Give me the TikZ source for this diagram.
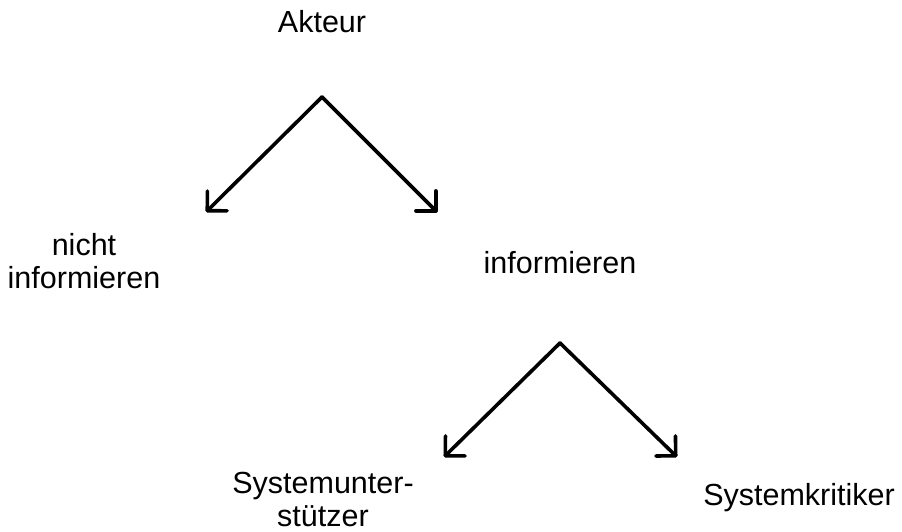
\documentclass[tikz,border=0pt]{standalone}
\usepackage{fontspec}
\setmainfont{Liberation Sans}
\usetikzlibrary{arrows.meta}
\begin{document}
\begin{tikzpicture}[x=1pt,y=-1pt,
  lbl/.style={font=\fontsize{30.5}{33}\selectfont, inner sep=0pt, align=center, anchor=center},
  branch/.style={line width=3.6pt, line cap=round, -{Straight Barb[length=14pt,width=28pt,line width=3.6pt,round]}}]
\useasboundingbox (0,0) rectangle (902,531);
\node[lbl] (akteur) at (322,22) {Akteur};
\node[lbl] (nicht) at (84,261) {nicht\\informieren};
\node[lbl] (info) at (560,263) {informieren};
\node[lbl] (sysu) at (323,499) {Systemunter-\\stützer};
\node[lbl] (sysk) at (799,498) {Systemkritiker};
\coordinate (a1) at (322,97);
\coordinate (l1) at (206,212);
\coordinate (r1) at (437,212);
\coordinate (a2) at (560,343);
\coordinate (l2) at (444,457);
\coordinate (r2) at (677,457);
\draw[branch] (a1) -- (l1);
\draw[branch] (a1) -- (r1);
\draw[branch] (a2) -- (l2);
\draw[branch] (a2) -- (r2);
\end{tikzpicture}
\end{document}
